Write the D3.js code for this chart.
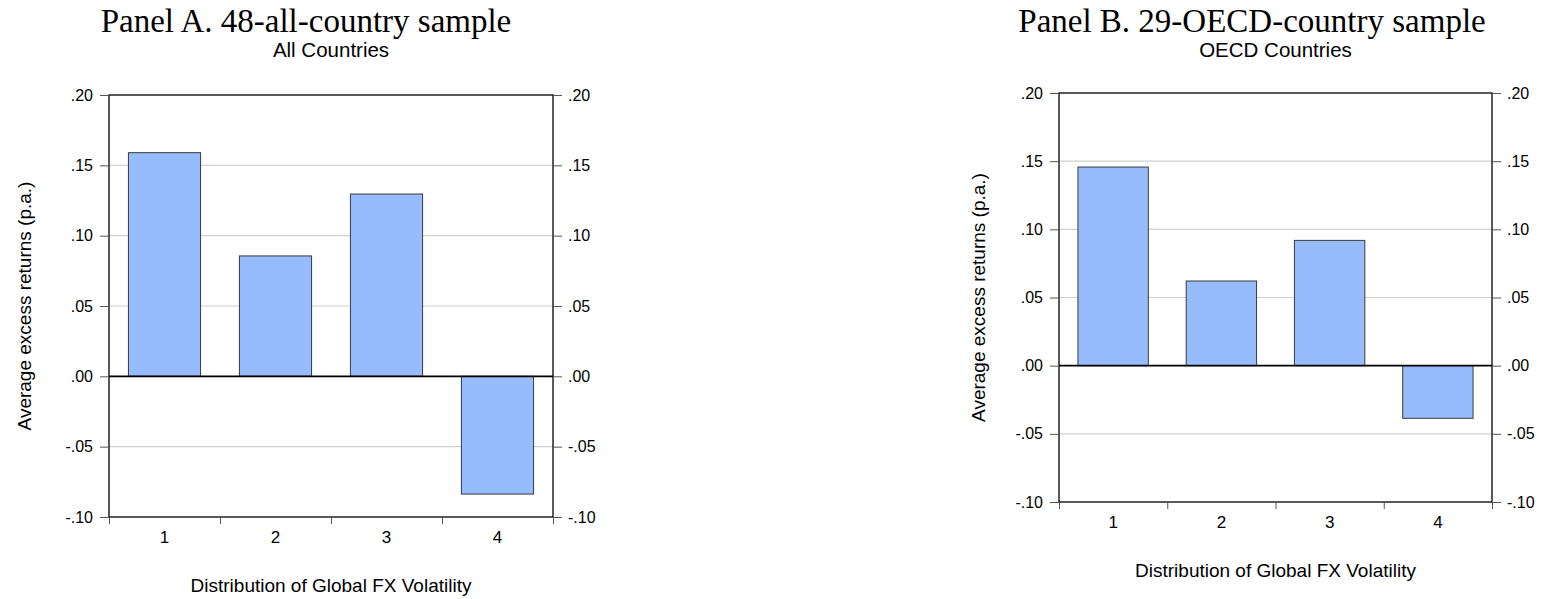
<!DOCTYPE html>
<html>
<head>
<meta charset="utf-8">
<script src="https://cdn.jsdelivr.net/npm/d3@7"></script>
<style>
  html, body { margin: 0; padding: 0; background: #fff; }
  svg { display: block; }
  text { font-family: "Liberation Sans", Arial, sans-serif; fill: #000; }
</style>
</head>
<body>
<svg id="chart" width="1542" height="599"></svg>
<script>
// ---------------- data ----------------
const categories = ["1", "2", "3", "4"];
const allCountries = [0.159, 0.0856, 0.1296, -0.0837];
const oecdCountries = [0.1457, 0.0621, 0.0919, -0.0386];
const yTicks = [-0.10, -0.05, 0.00, 0.05, 0.10, 0.15, 0.20];
const panelTitles = ["Panel A. 48-all-country sample", "Panel B. 29-OECD-country sample"];
const subTitles = ["All Countries", "OECD Countries"];
const yAxisTitle = "Average excess returns (p.a.)";
const xAxisTitle = "Distribution of Global FX Volatility";

// ---------------- layout ----------------
const panels = [
  { values: allCountries, title: panelTitles[0], sub: subTitles[0],
    left: 109, right: 553, top: 95, bottom: 517, titleX: 306, yTitleX: 31 },
  { values: oecdCountries, title: panelTitles[1], sub: subTitles[1],
    left: 1059, right: 1492, top: 93, bottom: 502, titleX: 1252, yTitleX: 985 }
];

const fmt = v => {
  const s = d3.format(".2f")(Math.abs(v) < 1e-9 ? 0 : v).replace("\u2212", "-");
  return s.replace(/^(-?)0\./, "$1.");
};

const svg = d3.select("#chart");
svg.append("rect").attr("width", 1542).attr("height", 599).attr("fill", "#fff");

panels.forEach(p => {
  const g = svg.append("g");
  const y = d3.scaleLinear().domain([-0.10, 0.20]).range([p.bottom, p.top]);
  const x = d3.scaleBand().domain(categories).range([p.left, p.right]).padding(0);
  const xb = d3.scaleLinear().domain([0, categories.length]).range([p.left, p.right]);

  // titles
  g.append("text").attr("x", p.titleX).attr("y", 32)
    .attr("text-anchor", "middle")
    .style("font-family", "'Liberation Serif', 'DejaVu Serif', serif")
    .style("font-size", "33px")
    .text(p.title);
  g.append("text").attr("x", (p.left + p.right) / 2).attr("y", 57)
    .attr("text-anchor", "middle").style("font-size", "20.5px")
    .text(p.sub);

  // gridlines
  g.append("g").selectAll("line")
    .data(yTicks.filter(t => Math.abs(t) > 1e-9 && t < 0.199 && t > -0.099))
    .join("line")
    .attr("x1", p.left).attr("x2", p.right)
    .attr("y1", d => y(d)).attr("y2", d => y(d))
    .attr("stroke", "#d0d0d0").attr("stroke-width", 1.2);

  // bars
  const bw = x.bandwidth() * 0.65;
  g.append("g").selectAll("rect")
    .data(p.values)
    .join("rect")
    .attr("x", (d, i) => x(categories[i]) + (x.bandwidth() - bw) / 2)
    .attr("width", bw)
    .attr("y", d => y(Math.max(0, d)))
    .attr("height", d => Math.abs(y(d) - y(0)))
    .attr("fill", "#97bcfd")
    .attr("stroke", "#3a3a3a").attr("stroke-width", 1);

  // zero line
  g.append("line").attr("x1", p.left).attr("x2", p.right)
    .attr("y1", y(0)).attr("y2", y(0))
    .attr("stroke", "#000").attr("stroke-width", 1.8);

  // frame
  g.append("rect").attr("x", p.left).attr("y", p.top)
    .attr("width", p.right - p.left).attr("height", p.bottom - p.top)
    .attr("fill", "none").attr("stroke", "#000").attr("stroke-width", 1.3);

  // left axis
  const la = g.append("g").attr("transform", `translate(${p.left},0)`)
    .call(d3.axisLeft(y).tickValues(yTicks).tickFormat(fmt).tickSize(9).tickPadding(7));
  // right axis
  const ra = g.append("g").attr("transform", `translate(${p.right},0)`)
    .call(d3.axisRight(y).tickValues(yTicks).tickFormat(fmt).tickSize(9).tickPadding(6));
  [la, ra].forEach(a => {
    a.select(".domain").remove();
    a.selectAll("line").attr("stroke", "#555");
    a.selectAll("text").style("font-size", "16px").style("font-family", "'Liberation Sans', Arial, sans-serif").attr("fill", "#000");
  });

  // bottom boundary ticks
  const ba = g.append("g").attr("transform", `translate(0,${p.bottom})`)
    .call(d3.axisBottom(xb).tickValues(d3.range(categories.length + 1)).tickFormat("").tickSize(7));
  ba.select(".domain").remove();
  ba.selectAll("line").attr("stroke", "#555");

  // category labels
  const ca = g.append("g").attr("transform", `translate(0,${p.bottom})`)
    .call(d3.axisBottom(x).tickSize(0).tickPadding(14));
  ca.select(".domain").remove();
  ca.selectAll("text").style("font-size", "17px").style("font-family", "'Liberation Sans', Arial, sans-serif").attr("fill", "#000");

  // axis titles
  g.append("text").attr("x", (p.left + p.right) / 2).attr("y", p.bottom + 75)
    .attr("text-anchor", "middle").style("font-size", "19px").text(xAxisTitle);
  g.append("text")
    .attr("transform", `translate(${p.yTitleX},${(p.top + p.bottom) / 2}) rotate(-90)`)
    .attr("text-anchor", "middle").style("font-size", "19px").text(yAxisTitle);
});
</script>
</body>
</html>
